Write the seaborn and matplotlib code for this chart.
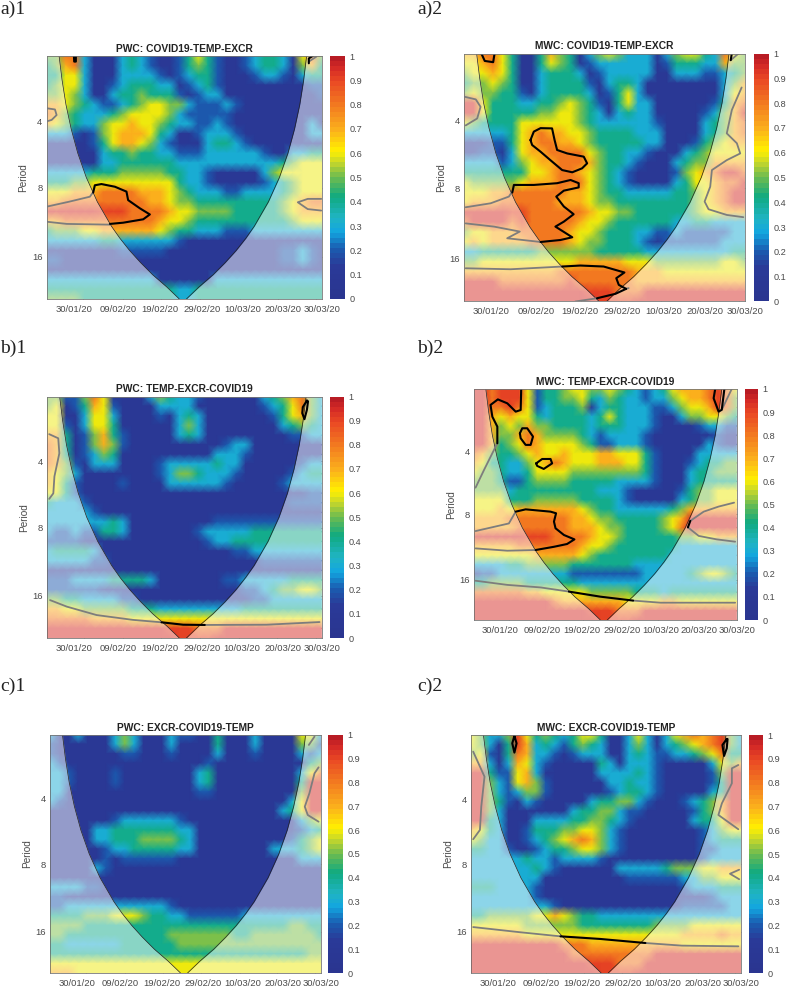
import numpy as np
import matplotlib
matplotlib.use("Agg")
import matplotlib.pyplot as plt
import seaborn as sns
from matplotlib.colors import LinearSegmentedColormap

# coherence, one digit = tenths, x = 0.95, rows go top to bottom
a1_rows = [
    "558831113432112464211234431685",
    "457831113432112454211234431574",
    "446631113333212344211123321344",
    "456631123444331234211111111122",
    "556531134454442123311111111112",
    "776543223456655322232111111111",
    "875433345666653222221111111111",
    "765433566766543322321111111131",
    "333212567776431123332111111133",
    "111112467765321113443211111111",
    "111111344544332223333332113344",
    "111111334444443333333333345666",
    "333334445555544332111113566666",
    "444556666666664332111112345666",
    "666777888877765433322333345666",
    "778888888887765544444444456788",
    "xxxxxx999888876655554444456777",
    "778888888888766544444444445666",
    "455566777777654433322233333333",
    "333333443333332111111111111111",
    "111111112222211111111111122321",
    "221111111111111111111111122321",
    "111111111111111111111111111111",
    "333333333333111111333333333333",
    "444444444444443344444444444444",
    "555544444444443344444444444444",
]
a2_rows = [
    "778864114754135653331356643865",
    "667864114654123333331244433755",
    "566764113444312333331133322345",
    "455654113444421344311111111357",
    "565544213444431246311111111367",
    "xx6444334456542146331111112478",
    "xx644444556654313433111112357x",
    "654444666666543333332111134578",
    "333334678776654444333111134578",
    "111224678877654444433111245677",
    "112213677888865443321113456666",
    "333323567788875443211134557777",
    "444444466788765432111125678xx8",
    "655555677788865432111134667 88x".replace(" ", ""),
    "666778888887765443333344 5678xx".replace(" ", ""),
    "677788888877765544444444 5678xx".replace(" ", ""),
    "xxxxx9988888876655444444566777",
    "8xxxx8988888766544444433443333",
    "566777888887665444332232222233",
    "676777788887655444321222222333",
    "334444445555554444433333333344",
    "556666666666777776665555555665",
    "777777777788888888777666666666",
    "xxxx88888889888888777777777777",
    "xxxxxxxxxxxxx999888xxxxxxxxxxx",
    "xxxxxxxxxxxxxx9999xxxxxxxxxxxx",
]
b1_rows = [
    "552258611113543321111113457853",
    "561247621111333311111112346853",
    "661136631111213431111111246753",
    "662136641111113531111111134543",
    "774125742111113431111111112233",
    "874125752111111111123311111111",
    "874123541111111111333211111111",
    "875213331111233333433111111233",
    "765311111111235543332111112344",
    "764211112111133333321111123333",
    "664211111111111111111111111122",
    "433321111111111111111111112222",
    "333332111111111111111111111111",
    "333333343111111111222222222222",
    "322322443111111123333344444444",
    "222211111111111112334444444444",
    "344443111111111111112233333333",
    "333332211111111111111112222222",
    "111111111111111111111111111111",
    "222333344443111111122333334444",
    "222222111111111111111223455665",
    "554433332211111111111122333333",
    "776655555444333333333444444444",
    "888887777666666666666666666666",
    "xxxxxxxxxxxxx999888xxxxxxxxxxx",
    "xxxxxxxxxxxxxx9999xxxxxxxxxxxx",
]
b2_rows = [
    "xx8999624456655654323467778986",
    "xx8999624455643543323356778985",
    "xx8898623444513443332235667985",
    "xx7676643444434643332113556654",
    "xx7565755444434443332111123322",
    "xx7557875555432333321111111211",
    "xx7456876666542233321111113211",
    "875445676676667766642111133333",
    "764433567876667776642111234455",
    "655433466665555555542111344555",
    "555422455554444433332111344444",
    "555534444444443332111112455666",
    "666644455555444432111113455666",
    "666767777777654433333345777777",
    "777788888887765544444567xxxxxx",
    "777778888887776554444568xxxxxx",
    "xxxxxx999888876654444445566777",
    "777778888888766544444443333333",
    "666666677777654444444433333333",
    "333344555554444444333333333333",
    "122333333332222222233333456654",
    "445555444444333333333333333333",
    "888888776666655555444344444444",
    "xxxxxxxxx877777776666776666666",
    "xxxxxxxxxxxxx999888xxxxxxxxxxx",
    "xxxxxxxxxxxxxx9999xxxxxxxxxxxx",
]
c1_rows = [
    "311311135311132211411131111663",
    "211111135311131111411131111552",
    "211111112211121111311121111323",
    "321111111111111112111111111145",
    "332111121111111134111111111368",
    "3321111211111111341111111114xx",
    "3311111111111111221111111115xx",
    "3211111111111111111111111136xx",
    "1111111111111111111111111346xx",
    "111111123333332111111111111356",
    "111113344444443311111111111234",
    "111113344455554311111111112456",
    "111111233444443311111111333456",
    "111111212222221111111111111333",
    "111113211111111111111111111111",
    "111111111111111111111111111111",
    "333322111111111111111111111111",
    "221111111111111111111111111111",
    "223333333333321111111111111111",
    "444455566654433222222333333333",
    "555544444444444444444444445544",
    "554444444444455555554455555554",
    "443333334444445555555555555555",
    "444444444444444444444444444455",
    "666666666666666666666666666666",
    "777666666666666666666666666666",
]
c2_rows = [
    "653359645434664113631367878953",
    "653149734324543113531345678953",
    "562148733212333113432233456844",
    "773137632111114313332111113657",
    "xx42267311111133334321111125xx",
    "xx53267521111113343321111124xx",
    "xx53235521111112344321111134xx",
    "xx54213211111344553211123457xx",
    "xx53111111134455322111112457xx",
    "xx43111333344554321111113446xx",
    "764311244455665321111111123566",
    "653311234567875321111111123444",
    "443321123445665321111111122333",
    "333333433233332111111111123333",
    "333333343211111133333455566777",
    "333333331111111112222223355666",
    "444333321111111111111112333444",
    "333333321111111111111111112333",
    "333333333211111111111112222233",
    "445555566765443333333333333333",
    "666666555555444444445555666666",
    "777777666666666666666667777877",
    "xxxxxxxxxx88877777777776666666",
    "xxxxxxxxxxx888888888xxxxxxxxxx",
    "xxxxxxxxxxxxx999888xxxxxxxxxxx",
    "xxxxxxxxxxxxxx9999xxxxxxxxxxxx",
]

# cone of influence, share of the width / height of the plot
cone_y = [0, .1, .2, .3, .4, .5, .6, .7, .75, .8, .85, .9, .95, 1]
cone_left = [.045, .056, .07, .089, .113, .144, .184, .235, .266, .301, .341, .385, .436, .482]

period_ticks = [4, 8, 16]
period_pos = [.269, .543, .826]
date_labels = ["30/01/20", "09/02/20", "19/02/20", "29/02/20", "10/03/20", "20/03/20", "30/03/20"]
date_pos = [.133, .276, .417, .559, .701, .84, .98]
date_label_pos = [.098, .259, .412, .564, .711, .86, 1.002]

# significance contours as (x, y), same shares as the cone
a1_black = [
    [(.169, .562), (.175, .532), (.199, .527), (.248, .538), (.29, .558), (.296, .593), (.339, .627),
     (.375, .652), (.351, .672), (.278, .686), (.23, .691)],
    [(.099, 0), (.1, .023), (.106, .023), (.106, 0)],
    [(.953, .03), (.953, .01), (.967, 0)],
]
a1_gray = [
    [(0, .62), (.08, .6), (.157, .579), (.169, .56)],
    [(0, .682), (.073, .691), (.23, .694)],
    [(0, .215), (.03, .22), (.036, .243), (.018, .263), (0, .269)],
    [(.998, .588), (.949, .588), (.913, .602), (.949, .63), (.998, .636)],
    [(.953, .023), (.98, .003)],
]
a2_black = [
    [(.062, 0), (.074, .03), (.104, .035), (.109, 0)],
    [(.951, .027), (.955, 0)],
    [(.237, .349), (.249, .315), (.273, .301), (.314, .302), (.323, .349), (.332, .389), (.368, .403),
     (.427, .416), (.439, .443), (.421, .463), (.386, .479), (.35, .47), (.308, .43), (.273, .396),
     (.243, .369), (.237, .349)],
    [(.172, .561), (.178, .53), (.249, .53), (.332, .523), (.38, .51), (.409, .523), (.409, .54),
     (.356, .553), (.329, .577), (.356, .617), (.391, .648), (.356, .678), (.326, .698), (.386, .741),
     (.344, .752), (.273, .76)],
    [(.35, .859), (.415, .855), (.498, .859), (.572, .883), (.543, .906), (.552, .933), (.578, .949)],
    [(.474, .987), (.54, .969), (.578, .949)],
]
a2_gray = [
    [(.951, .027), (.979, 0)],
    [(0, .174), (.042, .185), (.059, .215), (.047, .262), (.006, .29)],
    [(.006, .62), (.095, .604), (.16, .577), (.172, .557)],
    [(.006, .685), (.107, .698), (.199, .718), (.154, .745), (.273, .76)],
    [(.006, .866), (.166, .87), (.35, .859)],
    [(.397, 1), (.474, .987)],
    [(.578, .949), (.587, .946)],
    [(.996, .66), (.937, .651), (.872, .628), (.858, .597), (.878, .537), (.884, .47), (.937, .43),
     (.985, .403), (.973, .362), (.937, .322), (.955, .228), (.99, .137)],
]
b1_black = [
    [(.417, .935), (.496, .945), (.575, .946)],
    [(.948, .017), (.933, .044), (.931, .069), (.939, .094), (.948, .055), (.952, .02), (.948, .017)],
]
b1_gray = [
    [(.007, .156), (.04, .173), (.044, .235), (.026, .331), (.022, .401), (.007, .424)],
    [(.01, .843), (.071, .87), (.18, .905), (.313, .925), (.417, .935)],
    [(.575, .946), (.8, .945), (.994, .934)],
]
b2_black = [
    [(.18, 0), (.178, .091), (.159, .098), (.127, .062), (.091, .045), (.063, .069), (.07, .12),
     (.089, .163), (.089, .235)],
    [(.92, 0), (.914, .04), (.933, .098), (.945, .09), (.955, 0)],
    [(.175, .192), (.184, .17), (.203, .17), (.225, .206), (.216, .242), (.197, .242), (.178, .213),
     (.175, .192)],
    [(.237, .322), (.26, .303), (.292, .303), (.298, .322), (.266, .346), (.241, .333), (.237, .322)],
    [(.159, .531), (.197, .521), (.292, .531), (.313, .538), (.305, .574), (.311, .603), (.343, .632),
     (.383, .651), (.355, .671), (.305, .683), (.235, .697)],
    [(.816, .599), (.825, .571)],
    [(.362, .877), (.482, .899), (.607, .916)],
]
b2_gray = [
    [(.089, .235), (.07, .278), (.038, .351), (.006, .427)],
    [(.945, .09), (.983, 0)],
    [(.006, .615), (.133, .582), (.159, .531)],
    [(.006, .69), (.127, .7), (.235, .697)],
    [(.825, .571), (.876, .531), (.933, .509), (.992, .492)],
    [(.816, .599), (.857, .636), (.926, .651), (.996, .661)],
    [(.006, .83), (.127, .848), (.254, .859), (.362, .877)],
    [(.607, .916), (.711, .925), (.996, .925)],
]
c1_black = []
c1_gray = [
    [(.993, .137), (.978, .162), (.959, .246), (.942, .302), (.953, .337), (.993, .365)],
    [(.957, .043), (.978, .008)],
]
c2_black = [
    [(.16, .004), (.152, .035), (.16, .074), (.168, .035), (.16, .004)],
    [(.948, .017), (.932, .042), (.938, .088), (.948, .056), (.951, .017), (.948, .017)],
    [(.331, .846), (.479, .857), (.646, .874)],
]
c2_gray = [
    [(.007, .07), (.049, .175), (.037, .301), (.032, .399), (.007, .438)],
    [(.991, .126), (.967, .14), (.967, .203), (.93, .287), (.917, .336), (.991, .396)],
    [(.994, .566), (.96, .583), (.994, .606)],
    [(.007, .807), (.183, .829), (.331, .846)],
    [(.646, .874), (.781, .885), (.991, .888)],
]

WIDTH, HEIGHT = 787, 988
TEXT = "#4a4a4a"

# the colour bar of the original, navy up to about 0.15 then jet like
coh_cmap = LinearSegmentedColormap.from_list("coh", [
    (0.0, "#2a3590"), (0.13, "#2a3a98"), (0.2, "#1a5cb0"), (0.27, "#12a5e0"), (0.33, "#20b4c4"),
    (0.42, "#10aa80"), (0.5, "#6cbb50"), (0.56, "#c4d62c"), (0.61, "#fff000"), (0.7, "#fbb01c"),
    (0.8, "#f37c20"), (0.9, "#ea4a24"), (0.96, "#d42a26"), (1.0, "#b81c24"),
], N=48)

sns.set_theme(style="white")
plt.rcParams["font.family"] = ["Liberation Sans", "DejaVu Sans"]

fig = plt.figure(figsize=(WIDTH / 100, HEIGHT / 100), dpi=100)


def add_axes_px(left, top, right, bottom):
    return fig.add_axes([left / WIDTH, 1 - bottom / HEIGHT, (right - left) / WIDTH, (bottom - top) / HEIGHT])


def read_rows(rows):
    return np.array([[0.95 if c == "x" else int(c) / 10 for c in r] for r in rows])


def panel(rows, black, gray, title, tag, tag_xy, box, cbar_box):
    data = read_rows(rows)
    ax = add_axes_px(*box)
    cax = add_axes_px(*cbar_box)
    sns.heatmap(data, ax=ax, cbar_ax=cax, cmap=coh_cmap, vmin=0, vmax=1, shading="gouraud",
                xticklabels=False, yticklabels=False,
                cbar_kws={"ticks": np.arange(0, 1.01, 0.1)})
    nx = data.shape[1] - 1
    ny = data.shape[0] - 1
    ax.set_xlim(0, nx)
    ax.set_ylim(ny, 0)

    # white veil outside the cone, thin line along it
    yy = np.array(cone_y) * ny
    left = np.array(cone_left) * nx
    right = (0.99 - np.array(cone_left)) * nx
    ax.fill_betweenx(yy, 0, left, color="white", alpha=0.5, lw=0)
    ax.fill_betweenx(yy, right, nx, color="white", alpha=0.5, lw=0)
    ax.plot(left, yy, color="#222222", lw=0.5)
    ax.plot(right, yy, color="#222222", lw=0.5)

    for line in gray:
        pts = np.array(line)
        ax.plot(pts[:, 0] * nx, pts[:, 1] * ny, color="#7d7d7d", lw=1.3, solid_capstyle="round")
    for line in black:
        pts = np.array(line)
        ax.plot(pts[:, 0] * nx, pts[:, 1] * ny, color="black", lw=1.5, solid_capstyle="round")

    ax.set_xticks(np.array(date_pos) * nx)
    ax.set_xticklabels([])
    ax.set_xticks(np.array(date_label_pos) * nx, minor=True)
    ax.set_xticklabels(date_labels, minor=True, fontsize=6.8, color=TEXT)
    ax.set_yticks(np.array(period_pos) * ny)
    ax.set_yticklabels(period_ticks, fontsize=6.8, color=TEXT, rotation=0)
    ax.set_ylabel("Period", fontsize=7.2, color=TEXT, labelpad=2.5)
    ax.tick_params(axis="both", which="major", direction="in", length=2, width=0.5, color="#555555",
                   bottom=True, left=True, right=True)
    ax.tick_params(axis="x", which="minor", length=0, pad=4)
    ax.tick_params(axis="y", which="major", pad=3)
    for s in ax.spines.values():
        s.set_visible(True)
        s.set_color("#777777")
        s.set_linewidth(0.6)
    ax.set_title(title, fontsize=7.4, fontweight="bold", color="#222222", pad=3)

    cax.set_yticklabels(["0", "0.1", "0.2", "0.3", "0.4", "0.5", "0.6", "0.7", "0.8", "0.9", "1"])
    cax.tick_params(labelsize=6.6, colors=TEXT, length=0, pad=3)

    fig.text(tag_xy[0] / WIDTH, 1 - tag_xy[1] / HEIGHT, tag, family="Liberation Serif", fontsize=14,
             color="#222222", va="center", ha="left")


panel(a1_rows, a1_black, a1_gray, "PWC: COVID19-TEMP-EXCR", "a)1", (0, 9), (46.7, 56, 322.3, 299), (330.3, 56, 345, 299))
panel(a2_rows, a2_black, a2_gray, "MWC: COVID19-TEMP-EXCR", "a)2", (417, 9), (464, 53.5, 745, 301.5), (754, 53.5, 769, 301.5))
panel(b1_rows, b1_black, b1_gray, "PWC: TEMP-EXCR-COVID19", "b)1", (0, 348), (47.3, 396.5, 321.7, 638), (329.5, 396.5, 344, 638))
panel(b2_rows, b2_black, b2_gray, "MWC: TEMP-EXCR-COVID19", "b)2", (417, 348), (474, 389, 736.7, 620), (744.5, 389, 758, 620))
panel(c1_rows, c1_black, c1_gray, "PWC: EXCR-COVID19-TEMP", "c)1", (0, 686), (50.3, 734.7, 321, 973), (328.3, 734.7, 343, 973))
panel(c2_rows, c2_black, c2_gray, "MWC: EXCR-COVID19-TEMP", "c)2", (417, 686), (471.3, 735, 741.3, 973), (748.7, 735, 763, 973))

fig.savefig("out.png", dpi=100)
